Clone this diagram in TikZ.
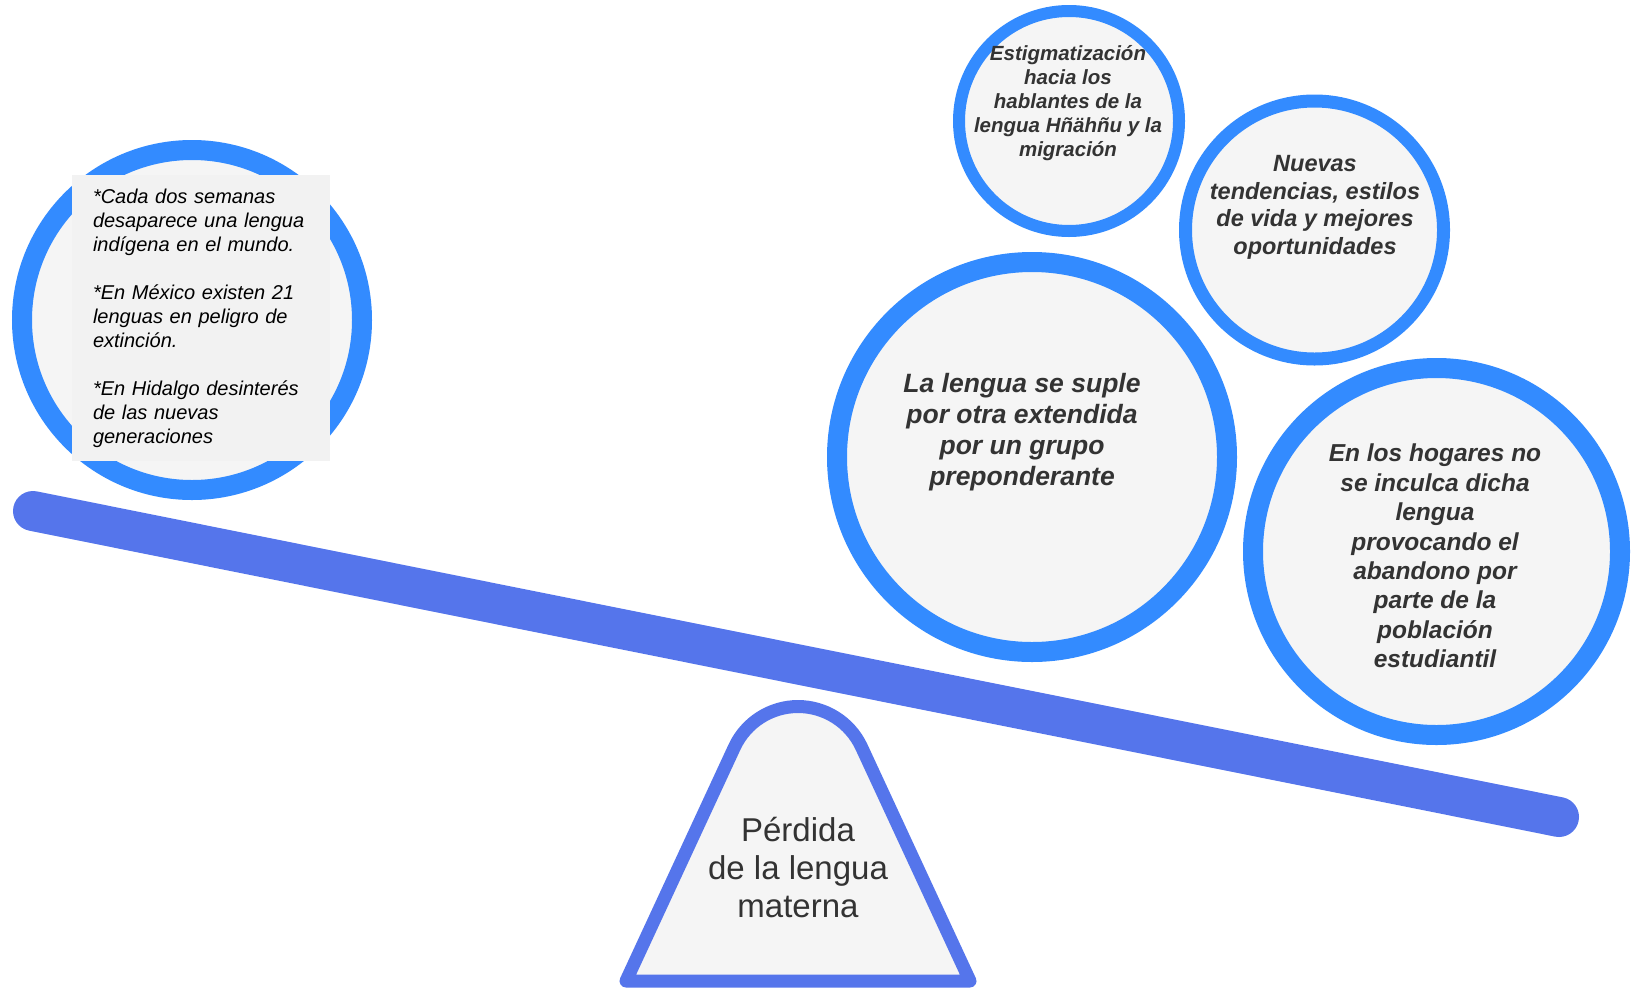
\documentclass[tikz,border=0pt]{standalone}
\usepackage{fontspec}
\setmainfont{Liberation Sans}
\usetikzlibrary{positioning}
\definecolor{anilloazul}{RGB}{51,139,255}
\definecolor{vigaazul}{RGB}{85,117,235}
\definecolor{fondogris}{RGB}{245,245,245}
\definecolor{cajagris}{RGB}{242,242,242}
\definecolor{textogris}{RGB}{51,51,51}

\begin{document}
\begin{tikzpicture}[
  x=0.5pt, y=-0.5pt,
  every node/.style={inner sep=0pt, outer sep=0pt},
  anillo/.style={circle, draw=anilloazul, fill=fondogris},
  causa/.style={align=center, text=textogris}
]

\useasboundingbox (0,0) rectangle (1632,991);

% --- Círculos ---

% Izquierda: datos
\node[anillo, line width=10pt, minimum size=170pt] (datos) at (192,320) {};

% Causas a la derecha
\node[anillo, line width=6pt, minimum size=110pt] (estigma) at (1069,121) {};
\node[anillo, line width=6.5pt, minimum size=129pt] (nuevas) at (1314.5,230) {};
\node[anillo, line width=10pt, minimum size=195pt] (suple) at (1032,457) {};
\node[anillo, line width=10pt, minimum size=183.5pt] (hogares) at (1436.5,551.5) {};

% --- Textos ---

% Caja gris sobre el círculo izquierdo
\node[
  fill=cajagris,
  minimum width=129pt,
  minimum height=143pt,
  text width=108pt,
  align=left,
  font=\fontsize{10}{12}\selectfont\itshape
] (tDatos) at (201,318) {*Cada dos semanas\\desaparece una lengua\\indígena en el mundo.\\[12pt]*En México existen 21\\lenguas en peligro de\\extinción.\\[12pt]*En Hidalgo desinterés\\de las nuevas\\generaciones};

\node[causa, font=\fontsize{10.25}{12}\selectfont\bfseries\itshape]
  (tEstigma) at (1068,103.5) {Estigmatización\\hacia los\\hablantes de la\\lengua Hñähñu y la\\migración};

\node[causa, font=\fontsize{11.75}{13.75}\selectfont\bfseries\itshape]
  (tNuevas) at (1315,207.5) {Nuevas\\tendencias, estilos\\de vida y mejores\\oportunidades};

\node[causa, font=\fontsize{13.25}{15.5}\selectfont\bfseries\itshape]
  (tSuple) at (1022,432) {La lengua se suple\\por otra extendida\\por un grupo\\preponderante};

\node[causa, font=\fontsize{12.25}{14.7}\selectfont\bfseries\itshape]
  (tHogares) at (1435,556) {En los hogares no\\se inculca dicha\\lengua\\provocando el\\abandono por\\parte de la\\población\\estudiantil};

% --- Balanza ---

% Viga inclinada
\coordinate (vigaIzq) at (33,511);
\coordinate (vigaDer) at (1559,817);
\draw[vigaazul, line width=20pt, line cap=round] (vigaIzq) -- (vigaDer);

% Soporte (cima redondeada)
\draw[vigaazul, line width=6.5pt, fill=fondogris, line join=round]
  (626,981) -- (734.5,747)
  .. controls (746,722.3) and (770.8,706.5) .. (798,706.5)
  .. controls (825.2,706.5) and (850,722.3) .. (861.5,747)
  -- (970,981) -- cycle;

\node[causa, font=\fontsize{16.5}{19}\selectfont]
  (perdida) at (798,867.5) {Pérdida\\de la lengua\\materna};

\end{tikzpicture}
\end{document}
